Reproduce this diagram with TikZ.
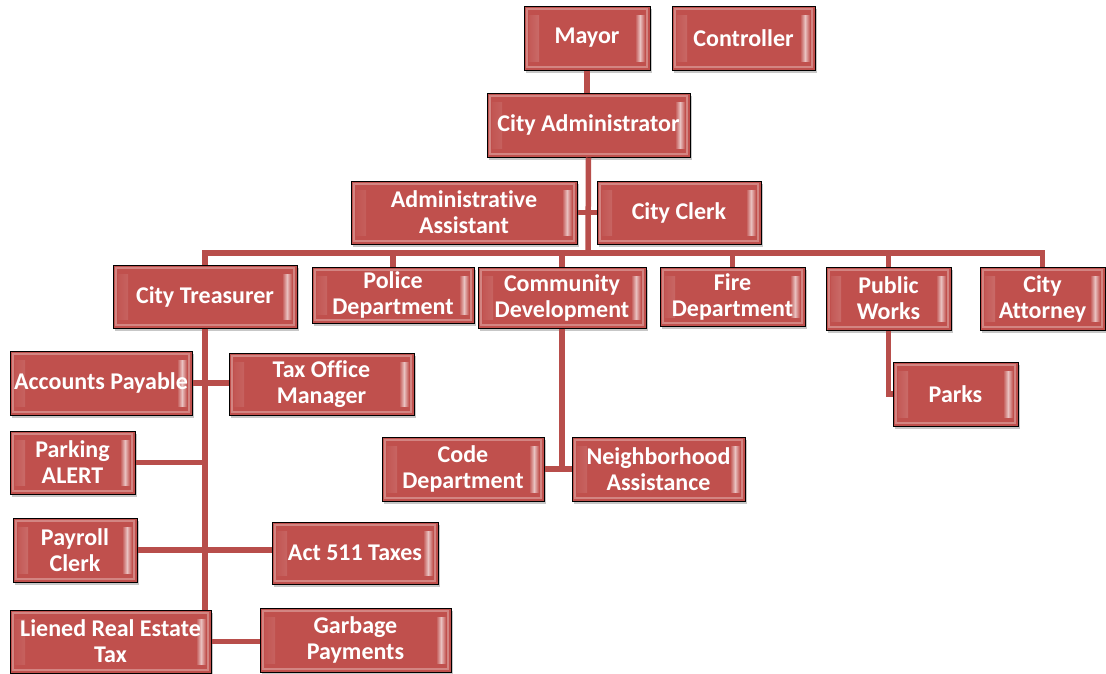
\documentclass[tikz,border=0pt]{standalone}
\usepackage{fontspec}
\setmainfont{Carlito}[Ligatures=NoCommon]
\usetikzlibrary{shadows}
\definecolor{boxred}{RGB}{192,80,77}
\definecolor{linkred}{RGB}{184,78,75}

\begin{document}
\begin{tikzpicture}[x=1pt,y=-1pt,
        box/.style={draw=black, line width=1pt, fill=boxred, text=white,
            font=\fontsize{24}{26}\selectfont\bfseries, align=center, inner sep=0pt,
            drop shadow={shadow xshift=2pt, shadow yshift=-3pt, opacity=0.22, fill=black},
            path picture={
                \shade[left color=boxred, right color=boxred, middle color=white!65!boxred]
                    ([shift={(5pt,-9pt)}]path picture bounding box.north west) rectangle
                    ([shift={(15pt,9pt)}]path picture bounding box.south west);
                \shade[left color=boxred, right color=boxred, middle color=white!65!boxred]
                    ([shift={(-15pt,-9pt)}]path picture bounding box.north east) rectangle
                    ([shift={(-5pt,9pt)}]path picture bounding box.south east);
                \draw[white!30!boxred, line width=1.5pt]
                    ([shift={(3pt,-3pt)}]path picture bounding box.north west) rectangle
                    ([shift={(-3pt,3pt)}]path picture bounding box.south east);
            }},
        sz/.style 2 args={minimum width=#1pt, minimum height=#2pt},
        link/.style={draw=linkred, line width=5.5pt}]
        \useasboundingbox (0,0) rectangle (1106,673);

        \node[box, sz={126}{64}] (mayor) at (587,38) {Mayor};
        \node[box, sz={143}{64}] (controller) at (743.5,38) {Controller};
        \node[box, sz={203}{64}] (admin) at (588.5,125) {City Administrator};
        \node[box, sz={226}{63}] (asst) at (464,212.5) {Administrative\\Assistant};
        \node[box, sz={164}{63}] (clerk) at (679,212.5) {City Clerk};

        \node[box, sz={184}{63}] (treasurer) at (205,296.5) {City Treasurer};
        \node[box, sz={162}{56}] (police) at (393,295) {Police\\Department};
        \node[box, sz={168}{61}] (community) at (562,297.5) {Community\\Development};
        \node[box, sz={145}{59}] (fire) at (732.5,296.5) {Fire\\Department};
        \node[box, sz={125}{63}] (pworks) at (888.5,298.5) {Public\\Works};
        \node[box, sz={125}{63}] (attorney) at (1042.5,298.5) {City\\Attorney};

        \node[box, sz={125}{64}] (parks) at (955.5,394) {Parks};
        \node[box, sz={162}{64}] (code) at (463,469) {Code\\Department};
        \node[box, sz={173}{64}] (neighbor) at (658.5,469) {Neighborhood\\Assistance};

        \node[box, sz={182}{64}] (payable) at (101,383) {Accounts Payable};
        \node[box, sz={185}{62}] (taxoffice) at (321.5,384) {Tax Office\\Manager};
        \node[box, sz={125}{63}] (parking) at (72.5,462.5) {Parking\\ALERT};
        \node[box, sz={124}{64}] (payroll) at (75,550) {Payroll\\Clerk};
        \node[box, sz={166}{62}] (act) at (355,553) {Act 511 Taxes};
        \node[box, sz={201}{63}] (liened) at (110.5,641.5) {Liened Real Estate\\Tax};
        \node[box, sz={191}{64}] (garbage) at (355.5,640) {Garbage\\Payments};

        \coordinate (bus) at (588,253);
        \path[link] (mayor.south) -- (mayor.south |- admin.north);
        \path[link] (admin.south) -- (bus);
        \path[link] (asst.east) -- (clerk.west);
        \path[link] (treasurer.north) |- (bus) -| (attorney.north);
        \path[link] (bus -| police.north) -- (police.north);
        \path[link] (bus -| community.north) -- (community.north);
        \path[link] (bus -| fire.north) -- (fire.north);
        \path[link] (bus -| pworks.north) -- (pworks.north);

        \path[link] (treasurer.south) -- (treasurer.south |- liened.north);
        \path[link] (payable.east) -- (payable.east -| taxoffice.west);
        \path[link] (parking.east) -- (parking.east -| treasurer.south);
        \path[link] (payroll.east) -- (payroll.east -| act.west);
        \path[link] (liened.east) -- (liened.east -| garbage.west);

        \path[link] (community.south) |- (code.east);
        \path[link] (code.east) -- (neighbor.west);
        \path[link] (pworks.south) |- (parks.west);
\end{tikzpicture}
\end{document}
